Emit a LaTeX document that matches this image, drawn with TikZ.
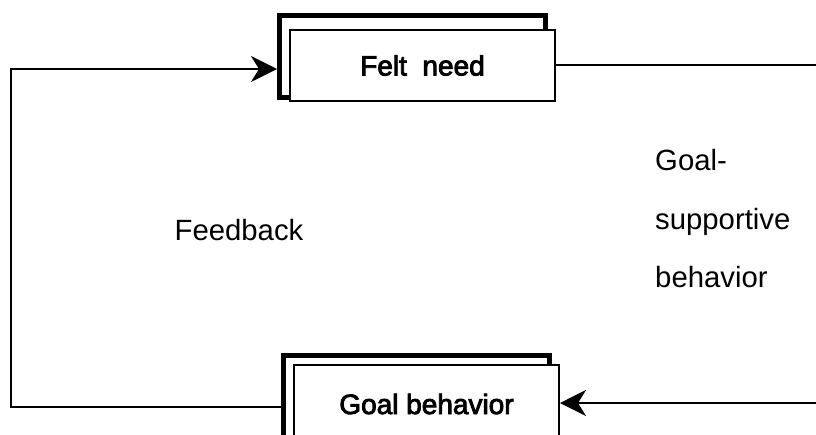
\documentclass[tikz,border=0pt]{standalone}
\usepackage{fontspec}
\setmainfont{Liberation Sans}
\newfontfamily\boxfont[FakeBold=3]{Liberation Sans}
\usetikzlibrary{arrows.meta}
\begin{document}
\begin{tikzpicture}[x=1pt,y=-1pt,
  backframe/.style={draw=black,line width=5pt,minimum width=266pt,minimum height=82pt,inner sep=0pt},
  frontbox/.style={draw=black,fill=white,line width=2pt,minimum width=265pt,inner sep=0pt,
    font=\boxfont\fontsize{28}{32}\selectfont},
  conn/.style={draw=black,line width=2pt},
  tip/.style={-{Stealth[length=26pt,width=26pt,inset=8pt]}},
  lbl/.style={font=\fontsize{29.3}{33}\selectfont,inner sep=0pt}]
\clip (0,0) rectangle (816,434);
\fill[white] (0,0) rectangle (816,434);
% Felt need
\node[backframe] (feltback) at (412.5,56.5) {};
\node[frontbox,minimum height=71pt] (feltfront) at (422.5,65.5) {Felt\ \ need};
% Goal behavior
\node[backframe] (goalback) at (416.5,396.5) {};
\node[frontbox,minimum height=78pt] (goalfront) at (426.5,404) {Goal behavior};
% coordinates
\coordinate (fb1) at (11,407);
\coordinate (fb2) at (11,69);
\coordinate (r1) at (840,65);
\coordinate (r2) at (840,403);
% connectors
\draw[conn,tip] (goalback.west |- fb1) -- (fb1) -- (fb2) -- (fb2 -| feltback.west);
\draw[conn,tip] (feltfront.east |- r1) -- (r1) -- (r2) -- (goalfront.east |- r2);
% labels
\node[lbl] (feedback) at (239,230) {Feedback};
\node[lbl,anchor=west] (gs1) at (655,160) {Goal-};
\node[lbl,anchor=west] (gs2) at (655,222) {supportive};
\node[lbl,anchor=west] (gs3) at (655,277) {behavior};
\end{tikzpicture}
\end{document}
